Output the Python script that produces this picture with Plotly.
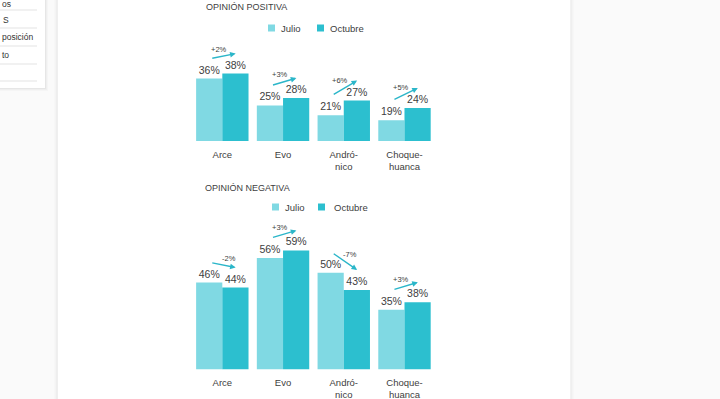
import plotly.graph_objects as go

# ---------------- data ----------------
categories = ["Arce", "Evo", "Andró-<br>nico", "Choque-<br>huanca"]
series_names = ["Julio", "Octubre"]
pos_julio = [36, 25, 21, 19]
pos_octubre = [38, 28, 27, 24]
neg_julio = [46, 56, 50, 35]
neg_octubre = [44, 59, 43, 38]
titles = ["OPINIÓN POSITIVA", "OPINIÓN NEGATIVA"]
menu_items = ["os", "S", "posición", "to"]

# ---------------- styles ----------------
W, H = 720, 399
C_JUL = "#80d9e3"
C_OCT = "#2cbfcf"
C_ARROW = "#2bb6c9"
TXT = "#404040"
FONT = "Liberation Sans, Arial, sans-serif"


def fx(p):
    return p / W


def fy(p):
    return 1 - p / H


fig = go.Figure()

panels = [
    dict(j=pos_julio, o=pos_octubre, xa="x", ya="y", xl="xaxis", yl="yaxis",
         base_px=141.0, top_px=30.0, vmin=10.5, slope=2.45),
    dict(j=neg_julio, o=neg_octubre, xa="x2", ya="y2", xl="xaxis2", yl="yaxis2",
         base_px=369.3, top_px=200.0, vmin=10.9, slope=2.47),
]

annotations = []
for p in panels:
    for name, vals, col in [(series_names[0], p["j"], C_JUL), (series_names[1], p["o"], C_OCT)]:
        fig.add_trace(go.Bar(
            x=categories, y=vals, name=name, marker=dict(color=col, line=dict(width=0)),
            text=[f"{v}%" for v in vals], textposition="outside",
            textfont=dict(size=10.5, color=TXT, family=FONT),
            cliponaxis=False, showlegend=False, xaxis=p["xa"], yaxis=p["ya"],
        ))
    # arrows + change labels
    for i, (a, b) in enumerate(zip(p["j"], p["o"])):
        d = b - a
        off = 20 / p["slope"]
        tail = (i - 0.19, a + off)
        head = (i + 0.22, b + off)
        annotations.append(dict(
            x=head[0], y=head[1], ax=tail[0], ay=tail[1],
            xref=p["xa"], yref=p["ya"], axref=p["xa"], ayref=p["ya"],
            text="", showarrow=True, arrowhead=2, arrowsize=0.8, arrowwidth=1.4,
            arrowcolor=C_ARROW, standoff=0, startstandoff=0,
        ))
        mx = (tail[0] + head[0]) / 2 + (-0.07 if d >= 0 else 0.09)
        my = (tail[1] + head[1]) / 2 + 7 / p["slope"]
        annotations.append(dict(
            x=mx, y=my, xref=p["xa"], yref=p["ya"], text=f"{d:+d}%",
            showarrow=False, font=dict(size=7.5, color=TXT, family=FONT),
        ))

# titles
for t, (xp, yp) in zip(titles, [(204, 7), (203, 188)]):
    annotations.append(dict(x=fx(xp), y=fy(yp), xref="paper", yref="paper", text=t,
                            showarrow=False, xanchor="left", yanchor="middle",
                            font=dict(size=9, color=TXT, family=FONT)))

# manual legends
shapes = []
legend_pos = [
    dict(y=28, sq=[268, 317], tx=[279, 328]),
    dict(y=207, sq=[272, 318], tx=[283, 332]),
]
for lp in legend_pos:
    for name, col, sx, tx in zip(series_names, [C_JUL, C_OCT], lp["sq"], lp["tx"]):
        shapes.append(dict(type="rect", xref="paper", yref="paper",
                           x0=fx(sx), x1=fx(sx + 7), y0=fy(lp["y"] + 3.5), y1=fy(lp["y"] - 3.5),
                           fillcolor=col, line=dict(width=0)))
        annotations.append(dict(x=fx(tx), y=fy(lp["y"]), xref="paper", yref="paper", text=name,
                                showarrow=False, xanchor="left", yanchor="middle",
                                font=dict(size=9.5, color=TXT, family=FONT)))

# page background & shadows
bg_shapes = [
    dict(type="rect", xref="paper", yref="paper", x0=fx(58), x1=fx(571), y0=0, y1=1,
         fillcolor="#ffffff", line=dict(width=0), layer="below"),
]
for k, c in enumerate(["#e4e4e4", "#eeeeee", "#f4f4f4"]):
    bg_shapes.append(dict(type="line", xref="paper", yref="paper", x0=fx(571 + k), x1=fx(571 + k),
                          y0=0, y1=1, line=dict(color=c, width=1), layer="below"))
    bg_shapes.append(dict(type="line", xref="paper", yref="paper", x0=fx(57 - k), x1=fx(57 - k),
                          y0=0, y1=1, line=dict(color=c, width=1), layer="below"))
# left menu panel with shadow
for k, c in enumerate(["#f5f5f5", "#efefef", "#e6e6e6"]):
    bg_shapes.append(dict(type="rect", xref="paper", yref="paper", x0=0, x1=fx(48 - k),
                          y0=fy(91 - k), y1=1, fillcolor=c, line=dict(width=0), layer="below"))
bg_shapes.append(dict(type="rect", xref="paper", yref="paper", x0=0, x1=fx(45), y0=fy(88), y1=1,
                      fillcolor="#ffffff", line=dict(width=0), layer="below"))
for yl in [10, 28, 46, 64, 81]:
    bg_shapes.append(dict(type="line", xref="paper", yref="paper", x0=0, x1=fx(37),
                          y0=fy(yl), y1=fy(yl), line=dict(color="#e3e3e3", width=1), layer="below"))
for item, (xl, yc) in zip(menu_items, [(0, 4.5), (1, 20), (0, 37), (0, 55)]):
    annotations.append(dict(x=fx(xl), y=fy(yc), xref="paper", yref="paper", text=item,
                            showarrow=False, xanchor="left", yanchor="middle",
                            font=dict(size=8.5, color="#333333", family=FONT)))

layout_axes = {}
for p in panels:
    layout_axes[p["xl"]] = dict(
        domain=[fx(191.95), fx(434.85)], anchor=p["ya"], type="category",
        showline=False, showgrid=False, zeroline=False, ticks="",
        tickfont=dict(size=9.5, color=TXT, family=FONT), ticklabelstandoff=6,
    )
    top_val = p["vmin"] + (p["base_px"] - p["top_px"]) / p["slope"]
    layout_axes[p["yl"]] = dict(
        domain=[fy(p["base_px"]), fy(p["top_px"])], anchor=p["xa"],
        range=[p["vmin"], top_val], visible=False,
    )

fig.update_layout(
    width=W, height=H, margin=dict(l=0, r=0, t=0, b=0),
    paper_bgcolor="#fafafa", plot_bgcolor="rgba(0,0,0,0)",
    barmode="group", bargap=0.137, bargroupgap=0,
    font=dict(family=FONT, color=TXT),
    annotations=annotations, shapes=bg_shapes + shapes,
    **layout_axes,
)

fig.write_html(
    "out.html",
    config={"displayModeBar": False},
    post_script="document.body.style.margin='0';document.body.style.overflow='hidden';",
)
